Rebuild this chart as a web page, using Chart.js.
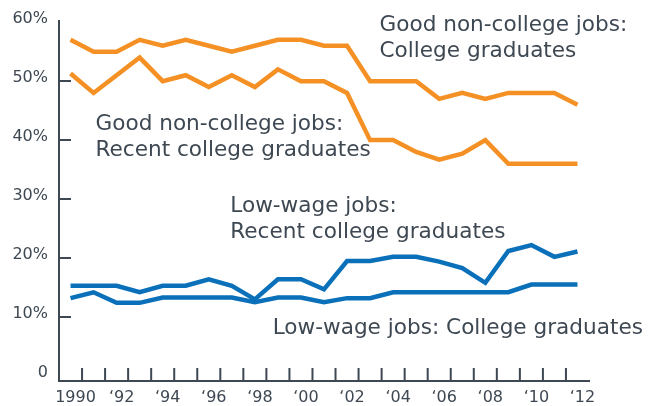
<!DOCTYPE html>
<html>
<head>
<meta charset="utf-8">
<script src="https://cdn.jsdelivr.net/npm/chart.js@4/dist/chart.umd.min.js"></script>
<style>
  html, body { margin: 0; padding: 0; background: #ffffff; }
  #wrap { width: 657px; height: 406px; position: relative; }
</style>
</head>
<body>
<div id="wrap"><canvas id="c" width="657" height="406"></canvas></div>
<script>
const years = [1990,1991,1992,1993,1994,1995,1996,1997,1998,1999,2000,2001,2002,2003,2004,2005,2006,2007,2008,2009,2010,2011,2012];
const tickLabels = ['1990','','\u201892','','\u201894','','\u201896','','\u201898','','\u201800','','\u201802','','\u201804','','\u201806','','\u201808','','\u201810','','\u201812'];
const yTicks = [0,10,20,30,40,50,60];

const goodCollegeGrads   = [57,55,55,57,56,57,56,55,56,57,57,56,56,50,50,50,47,48,47,48,48,48,46];
const goodRecentGrads    = [51.3,48,51,54,50,51,49,51,49,52,50,50,48,40,40,38,36.7,37.7,40,36,36,36,36];
const lowWageRecentGrads = [15.3,15.3,15.3,14.2,15.3,15.3,16.4,15.3,13.0,16.4,16.4,14.7,19.5,19.5,20.2,20.2,19.4,18.3,15.8,21.2,22.2,20.2,21.1];
const lowWageCollegeGrads= [13.2,14.2,12.4,12.4,13.3,13.3,13.3,13.3,12.5,13.3,13.3,12.5,13.2,13.2,14.2,14.2,14.2,14.2,14.2,14.2,15.5,15.5,15.5];

const seriesNames = ['Good non-college jobs: College graduates','Good non-college jobs: Recent college graduates','Low-wage jobs: Recent college graduates','Low-wage jobs: College graduates'];

const ORANGE = '#f59124';
const BLUE = '#0a70b9';
const INK = '#3e4852';

const annotations = [
  { lines: ['Good non-college jobs:', 'College graduates'], x: 379.5, y: 30.5 },
  { lines: ['Good non-college jobs:', 'Recent college graduates'], x: 95.5, y: 129.5 },
  { lines: ['Low-wage jobs:', 'Recent college graduates'], x: 230.3, y: 212.2 },
  { lines: ['Low-wage jobs: College graduates'], x: 272.7, y: 334.3 }
];

const decorPlugin = {
  id: 'decor',
  beforeDatasetsDraw(chart) {
    const ctx = chart.ctx;
    const xs = chart.scales.x, ys = chart.scales.y;
    const area = chart.chartArea;
    ctx.save();
    ctx.strokeStyle = INK;
    ctx.lineWidth = 2;
    [10,20,30,40,50].forEach(v => {
      const py = Math.round(ys.getPixelForValue(v));
      ctx.beginPath();
      ctx.moveTo(area.left, py);
      ctx.lineTo(area.left + 12, py);
      ctx.stroke();
    });
    for (let i = 0; i < years.length - 1; i++) {
      const px = (xs.getPixelForValue(i) + xs.getPixelForValue(i + 1)) / 2;
      ctx.beginPath();
      ctx.moveTo(px, area.bottom);
      ctx.lineTo(px, area.bottom - 13);
      ctx.stroke();
    }
    ctx.restore();
  },
  afterDraw(chart) {
    const ctx = chart.ctx;
    ctx.save();
    ctx.fillStyle = INK;
    ctx.font = '21.6px "DejaVu Sans"';
    ctx.textBaseline = 'alphabetic';
    ctx.textAlign = 'left';
    annotations.forEach(a => {
      a.lines.forEach((t, k) => ctx.fillText(t, a.x, a.y + k * 26));
    });
    ctx.restore();
  }
};

Chart.defaults.font.family = '"DejaVu Sans", Verdana, sans-serif';
Chart.defaults.color = INK;

const mk = (label, data, color) => ({
  label, data, borderColor: color, backgroundColor: color,
  borderWidth: 4.5, pointRadius: 0, tension: 0, fill: false,
  borderJoinStyle: 'miter', borderCapStyle: 'butt'
});

new Chart(document.getElementById('c'), {
  type: 'line',
  data: {
    labels: years,
    datasets: [
      mk(seriesNames[0], goodCollegeGrads, ORANGE),
      mk(seriesNames[1], goodRecentGrads, ORANGE),
      mk(seriesNames[2], lowWageRecentGrads, BLUE),
      mk(seriesNames[3], lowWageCollegeGrads, BLUE)
    ]
  },
  options: {
    responsive: false,
    animation: false,
    devicePixelRatio: 1,
    layout: { padding: { top: 21, right: 68, bottom: 0, left: 0 } },
    plugins: { legend: { display: false }, tooltip: { enabled: false } },
    scales: {
      x: {
        type: 'category',
        offset: true,
        grid: { display: false, drawTicks: false },
        border: { display: true, color: INK, width: 2 },
        ticks: {
          autoSkip: false, maxRotation: 0, minRotation: 0,
          padding: 7, labelOffset: 5,
          font: { size: 16 }, color: INK,
          callback: (v, i) => tickLabels[i]
        },
        afterFit: s => { s.height = 25; }
      },
      y: {
        min: -0.85, max: 60.2,
        grid: { display: false, drawTicks: false },
        border: { display: true, color: INK, width: 2 },
        afterBuildTicks: s => { s.ticks = yTicks.map(v => ({ value: v })); },
        ticks: {
          padding: 11, labelOffset: -3,
          font: { size: 16 }, color: INK,
          callback: v => v === 0 ? '0' : v + '%'
        },
        afterFit: s => { s.width = 59; }
      }
    }
  },
  plugins: [decorPlugin]
});
</script>
</body>
</html>
